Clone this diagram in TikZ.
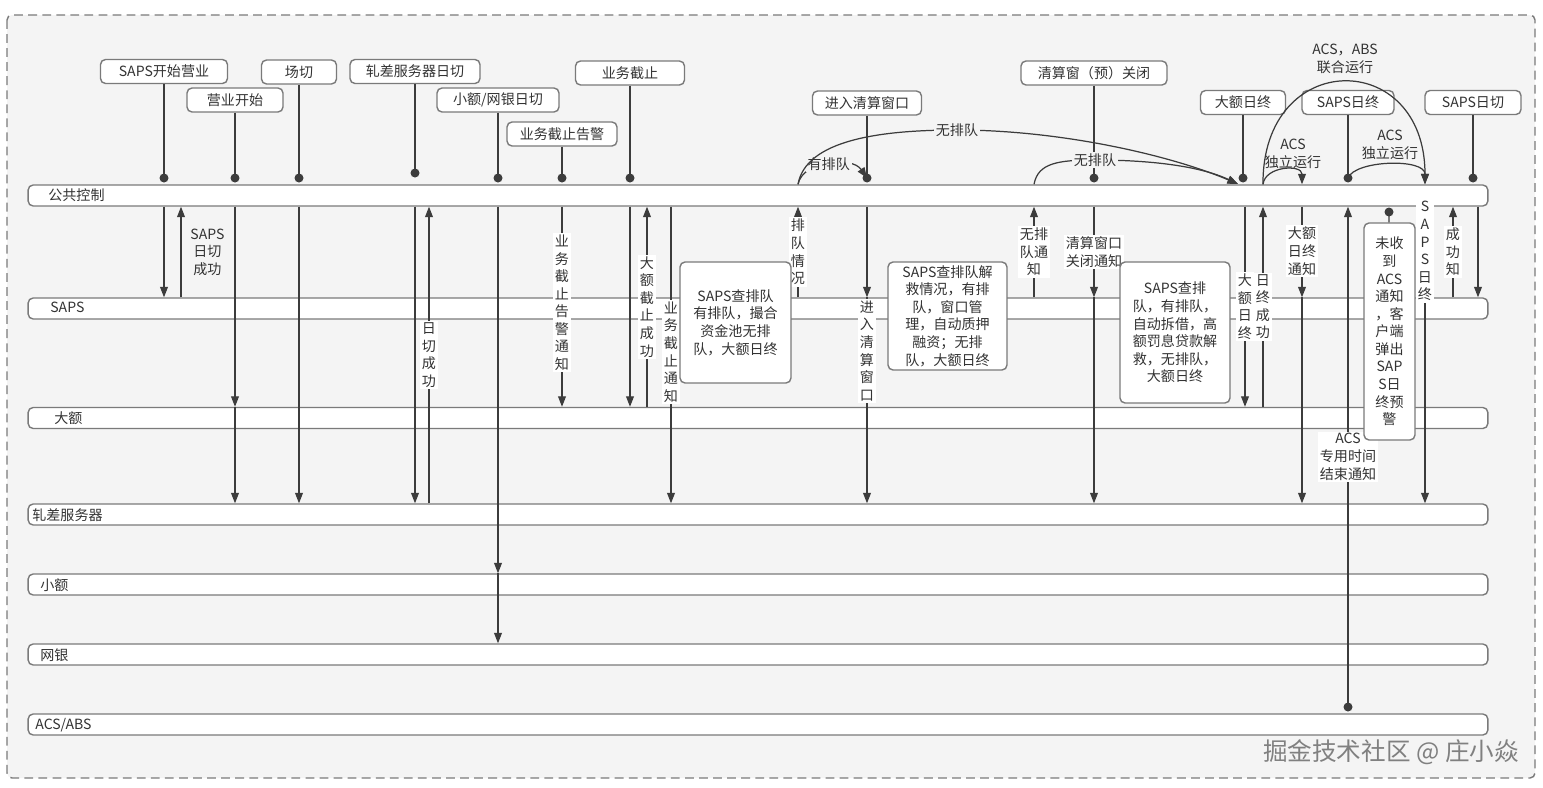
\documentclass[tikz,border=0pt]{standalone}
\usepackage{fontspec}
\setmainfont{Noto Sans CJK SC}
\usetikzlibrary{arrows.meta}

\definecolor{bgGray}{HTML}{F4F4F4}
\definecolor{lnGray}{HTML}{3C3C3C}
\definecolor{bdGray}{HTML}{7A7A7A}
\definecolor{txGray}{HTML}{333333}

\begin{document}
\begin{tikzpicture}[
    x=0.02cm, y=-0.02cm, every node/.style={font=\fontsize{8}{10}\selectfont, text=txGray},
    lane/.style={rectangle, draw=bdGray, thick, fill=white, rounded corners=1mm, minimum width=29.2cm, minimum height=4.2mm, inner sep=0pt},
    laneText/.style={anchor=west, inner sep=0pt},
    topBox/.style={rectangle, draw=bdGray, thick, fill=white, rounded corners=1mm, minimum height=4.8mm, inner sep=0pt},
    midBox/.style={rectangle, draw=bdGray, thick, fill=white, rounded corners=1mm, align=center, inner sep=0pt},
    dot/.style={circle, fill=lnGray, inner sep=0pt, minimum size=1.8mm},
    link/.style={draw=lnGray, line width=0.7pt},
    msg/.style={link, -{Triangle[width=4.5pt,length=6pt]}},
    vLabel/.style={fill=white, align=center, inner sep=1pt},
    cLabel/.style={fill=bgGray, align=center, inner sep=1pt},
    freeLabel/.style={align=center, inner sep=0pt}
]
    \useasboundingbox (0,0) rectangle (1543,788);
    \draw[bdGray, thick, dash pattern=on 5pt off 3pt, rounded corners=1mm, fill=bgGray] (7,15) rectangle (1535,778);

    % lanes
    \node[lane] (gk) at (758,195.5) {};
    \node[lane] (saps) at (758,308.5) {};
    \node[lane] (de) at (758,418) {};
    \node[lane] (zc) at (758,514.5) {};
    \node[lane] (xe) at (758,584.5) {};
    \node[lane] (wy) at (758,654.5) {};
    \node[lane] (acs) at (758,724.5) {};
    \node[laneText] (gkText) at (48,195.5) {公共控制};
    \node[laneText] (sapsText) at (50,307.5) {SAPS};
    \node[laneText] (deText) at (54,418) {大额};
    \node[laneText] (zcText) at (32,515) {轧差服务器};
    \node[laneText] (xeText) at (40,585) {小额};
    \node[laneText] (wyText) at (40,655) {网银};
    \node[laneText] (acsText) at (35,725) {ACS/ABS};

    % events on top
    \node[topBox, minimum width=2.54cm] (bOpen) at (164,71.5) {SAPS开始营业};
    \node[topBox, minimum width=1.92cm] (bBiz) at (235,100) {营业开始};
    \node[topBox, minimum width=1.5cm] (bSwitch) at (299,72) {场切};
    \node[topBox, minimum width=2.6cm] (bNetCut) at (415,71.5) {轧差服务器日切};
    \node[topBox, minimum width=2.44cm] (bSmallCut) at (498,100) {小额/网银日切};
    \node[topBox, minimum width=2.2cm] (bWarn) at (562,134) {业务截止告警};
    \node[topBox, minimum width=2.18cm] (bStop) at (630,73) {业务截止};
    \node[topBox, minimum width=2.18cm] (bEnter) at (867,103) {进入清算窗口};
    \node[topBox, minimum width=2.92cm] (bClose) at (1094,73) {清算窗（预）关闭};
    \node[topBox, minimum width=1.7cm] (bLvEnd) at (1243,102.5) {大额日终};
    \node[topBox, minimum width=1.84cm] (bSapsEnd) at (1348,102.5) {SAPS日终};
    \node[topBox, minimum width=1.92cm] (bSapsCut) at (1473,102.5) {SAPS日切};

    \coordinate (dOpen) at (164,178);
    \coordinate (dBiz) at (235,178);
    \coordinate (dSwitch) at (299,178);
    \coordinate (dNetCut) at (415,173);
    \coordinate (dSmallCut) at (498,178);
    \coordinate (dWarn) at (562,178);
    \coordinate (dStop) at (630,178);
    \coordinate (dEnter) at (867,178);
    \coordinate (dClose) at (1094,178);
    \coordinate (dLvEnd) at (1243,178);
    \coordinate (dSapsEnd) at (1348,178);
    \coordinate (dSapsCut) at (1473,178);
    \coordinate (dAcs) at (1348,707);
    \coordinate (dWarnBox) at (1389,212);

    \coordinate (xSapsOk) at (181,0);
    \coordinate (xCutOk) at (429,0);
    \coordinate (xLvStopOk) at (647,0);
    \coordinate (xStopMsg) at (671,0);
    \coordinate (xQueue) at (798,0);
    \coordinate (xNoQueue) at (1034,0);
    \coordinate (xLvEndMsg) at (1245,0);
    \coordinate (xLvEndOk) at (1263,0);
    \coordinate (xLvEndNote) at (1302,0);
    \coordinate (xSapsEndMsg) at (1425,0);
    \coordinate (xSapsCutOk) at (1453,0);
    \coordinate (xSapsCutMsg) at (1478,0);
    \coordinate (cMeet) at (1238,184);

    \draw[link] (bOpen) -- (dOpen);
    \draw[link] (bBiz) -- (dBiz);
    \draw[link] (bSwitch) -- (dSwitch);
    \draw[link] (bNetCut) -- (dNetCut);
    \draw[link] (bSmallCut) -- (dSmallCut);
    \draw[link] (bWarn) -- (dWarn);
    \draw[link] (bStop) -- (dStop);
    \draw[link] (bEnter) -- (dEnter);
    \draw[link] (bClose) -- (dClose);
    \draw[link] (bLvEnd) -- (dLvEnd);
    \draw[link] (bSapsEnd) -- (dSapsEnd);
    \draw[link] (bSapsCut) -- (dSapsCut);

    % messages between lanes
    \draw[msg] (dOpen |- gk.south) -- (dOpen |- saps.north);
    \draw[msg] (xSapsOk |- saps.north) -- (xSapsOk |- gk.south) node[freeLabel, pos=0.5, right=5pt] (lSapsOk) {SAPS\\日切\\成功};
    \draw[msg] (dBiz |- gk.south) -- (dBiz |- de.north);
    \draw[msg] (dBiz |- de.north) -- (dBiz |- zc.north);
    \draw[msg] (dSwitch |- gk.south) -- (dSwitch |- zc.north);
    \draw[msg] (dNetCut |- gk.south) -- (dNetCut |- zc.north);
    \draw[msg] (xCutOk |- zc.north) -- (xCutOk |- gk.south) node[vLabel, pos=0.5] (lCutOk) {日\\切\\成\\功};
    \draw[msg] (dSmallCut |- gk.south) -- (dSmallCut |- xe.north);
    \draw[msg] (dSmallCut |- xe.north) -- (dSmallCut |- wy.north);
    \draw[msg] (dWarn |- gk.south) -- (dWarn |- de.north) node[vLabel, pos=0.48] (lWarn) {业\\务\\截\\止\\告\\警\\通\\知};
    \draw[msg] (dStop |- gk.south) -- (dStop |- de.north);
    \draw[msg] (xLvStopOk |- de.north) -- (xLvStopOk |- gk.south) node[vLabel, pos=0.5] (lLvStopOk) {大\\额\\截\\止\\成\\功};
    \draw[msg] (xStopMsg |- gk.south) -- (xStopMsg |- zc.north) node[vLabel, pos=0.49] (lStopMsg) {业\\务\\截\\止\\通\\知};
    \draw[msg] (xQueue |- saps.north) -- (xQueue |- gk.south) node[vLabel, pos=0.5] (lQueue) {排\\队\\情\\况};
    \draw[msg] (dEnter |- gk.south) -- (dEnter |- saps.north);
    \draw[msg] (dEnter |- saps.north) -- (dEnter |- zc.north) node[vLabel, pos=0.26] (lEnter) {进\\入\\清\\算\\窗\\口};
    \draw[msg] (xNoQueue |- saps.north) -- (xNoQueue |- gk.south) node[vLabel, pos=0.5] (lNoQueue) {无排\\队通\\知};
    \draw[msg] (dClose |- gk.south) -- (dClose |- saps.north) node[vLabel, pos=0.5] (lClose) {清算窗口\\关闭通知};
    \draw[msg] (dClose |- saps.north) -- (dClose |- zc.north);
    \draw[msg] (xLvEndMsg |- gk.south) -- (xLvEndMsg |- de.north) node[vLabel, pos=0.5] (lLvEnd) {大\\额\\日\\终};
    \draw[msg] (xLvEndOk |- de.north) -- (xLvEndOk |- gk.south) node[vLabel, pos=0.5] (lLvEndOk) {日\\终\\成\\功};
    \draw[msg] (xLvEndNote |- gk.south) -- (xLvEndNote |- saps.north) node[vLabel, pos=0.49] (lLvEndNote) {大额\\日终\\通知};
    \draw[msg] (xLvEndNote |- saps.north) -- (xLvEndNote |- zc.north);
    \draw[msg] (dAcs) -- (dAcs |- gk.south) node[vLabel, pos=0.5] (lAcsEnd) {ACS\\专用时间\\结束通知};
    \draw[msg] (xSapsEndMsg |- gk.south) -- (xSapsEndMsg |- zc.north) node[vLabel, pos=0.15] (lSapsEnd) {S\\A\\P\\S\\日\\终};
    \draw[msg] (xSapsCutOk |- saps.north) -- (xSapsCutOk |- gk.south) node[vLabel, pos=0.5] (lSapsCutOk) {成\\功\\知};
    \draw[msg] (xSapsCutMsg |- gk.south) -- (xSapsCutMsg |- saps.north);

    % SAPS checks
    \node[midBox, minimum width=2.22cm, minimum height=2.42cm] (mQueue) at (735.5,322.5) {SAPS查排队\\有排队，撮合\\资金池无排\\队，大额日终};
    \node[midBox, minimum width=2.38cm, minimum height=2.16cm] (mRescue) at (947.5,316) {SAPS查排队解\\救情况，有排\\队，窗口管\\理，自动质押\\融资；无排\\队，大额日终};
    \node[midBox, minimum width=2.2cm, minimum height=2.82cm] (mLend) at (1175,332.5) {SAPS查排\\队，有排队，\\自动拆借，高\\额罚息贷款解\\救，无排队，\\大额日终};
    \node[midBox, minimum width=1.02cm, minimum height=4.34cm] (mWarn) at (1389.5,331.5) {未收\\到\\ACS\\通知\\，客\\户端\\弹出\\SAP\\S日\\终预\\警};
    \draw[link] (dWarnBox) -- (mWarn);

    % queue branches
    \draw[msg] (xQueue |- gk.north) .. controls (803,160) and (852,156) .. (dEnter) node[cLabel, pos=0.5] (lHasQ) {有排队};
    \draw[msg] (xQueue |- gk.north) .. controls (806,140) and (880,130) .. (957,130) node[cLabel] (lNoQ1) {无排队} .. controls (1060,130) and (1170,155) .. (cMeet);
    \draw[msg] (xNoQueue |- gk.north) .. controls (1038,163) and (1058,160) .. (1095,160) node[cLabel] (lNoQ2) {无排队} .. controls (1150,160) and (1200,166) .. (cMeet);
    \draw[msg] (xLvEndOk |- gk.north) .. controls (1265,166) and (1302,164) .. (xLvEndNote |- gk.north);
    \draw[msg] (xLvEndOk |- gk.north) .. controls (1262,48) and (1425,48) .. (xSapsEndMsg |- gk.north);
    \draw[msg] (dSapsEnd) .. controls (1355,160) and (1425,158) .. (xSapsEndMsg |- gk.north);
    \node[freeLabel] (lAcs1) at (1293,154) {ACS\\独立运行};
    \node[freeLabel] (lAcs2) at (1390,145) {ACS\\独立运行};
    \node[freeLabel] (lJoint) at (1345,59) {ACS，ABS\\联合运行};

    \foreach \d in {dOpen,dBiz,dSwitch,dNetCut,dSmallCut,dWarn,dStop,dEnter,dClose,dLvEnd,dSapsEnd,dSapsCut,dAcs,dWarnBox}
        \node[dot] at (\d) {};

    \node[text=gray, font=\fontsize{14}{16}\selectfont] (wMark) at (1391,752) {掘金技术社区 @ 庄小焱};
\end{tikzpicture}
\end{document}
